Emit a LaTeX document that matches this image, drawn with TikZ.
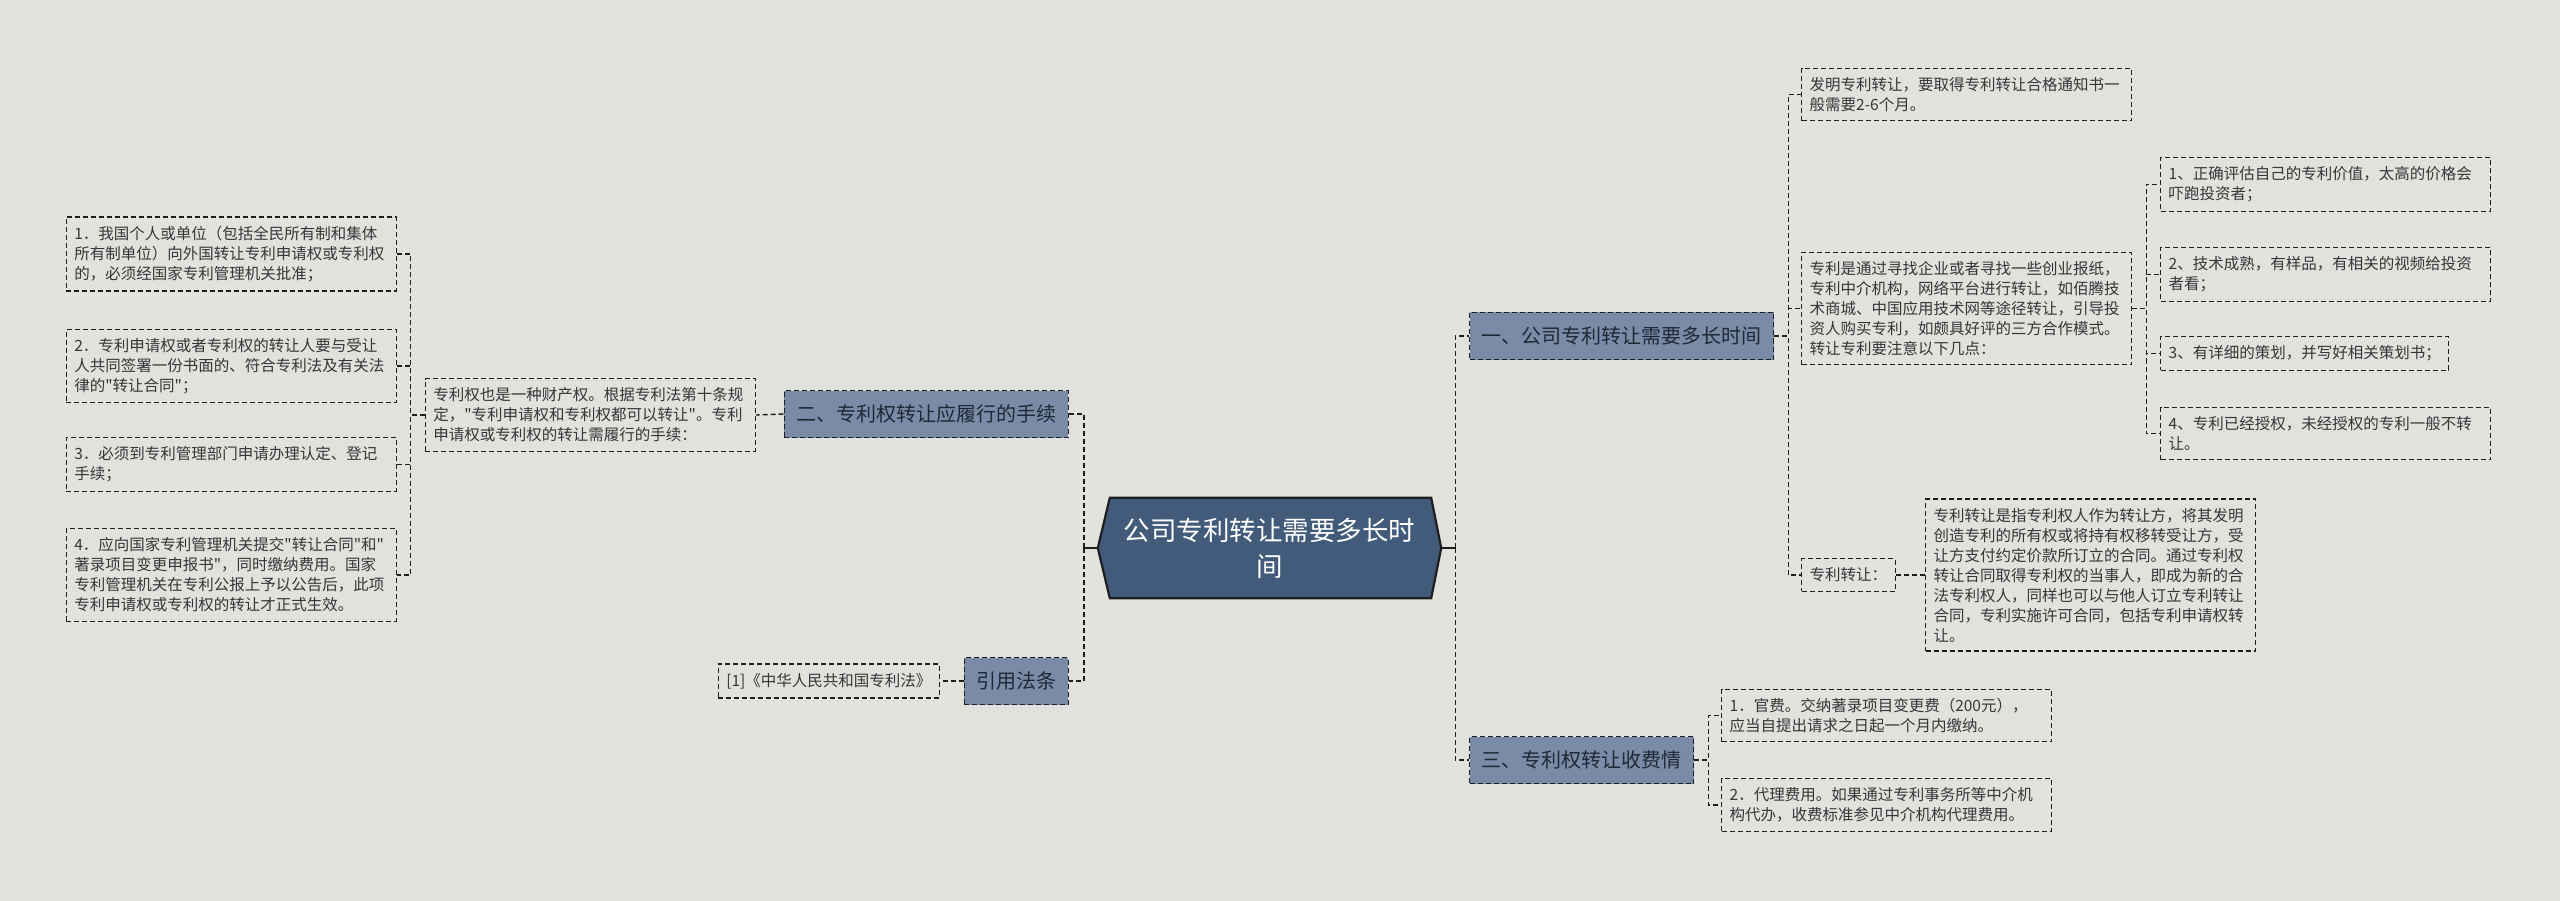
\documentclass[tikz,border=0pt]{standalone}
\usepackage{fontspec}
\setmainfont{Noto Sans CJK SC}[Ligatures=TeXOff]
\usepackage{tikz}
\usetikzlibrary{calc,backgrounds}
\definecolor{bgcol}{HTML}{E1E2DE}
\definecolor{rootcol}{HTML}{425B7A}
\definecolor{branchcol}{HTML}{7A8BA7}
\definecolor{linecol}{HTML}{1E1E1E}
\definecolor{leaftext}{HTML}{363636}
\definecolor{branchtext}{HTML}{1E2836}

\begin{document}
\begin{tikzpicture}[x=1pt,y=-1pt,
  link/.style={draw=linecol,line width=1.4pt,dash pattern=on 5pt off 3pt},
  rootlink/.style={draw=linecol,line width=2.6pt},
  leaf/.style={draw=linecol,line width=1.3pt,dash pattern=on 5pt off 3pt,
               text=leaftext,font=\fontsize{15.5}{20}\selectfont,
               inner xsep=8pt,inner ysep=9pt,align=left},
  wide/.style={leaf,text width=314pt},
  branch/.style={draw=linecol,fill=branchcol,line width=1.4pt,
               dash pattern=on 5pt off 3pt,text=branchtext,
               font=\fontsize{20}{24}\selectfont,inner xsep=12pt,
               minimum height=47pt},
  rootnode/.style={text=white,font=\fontsize{26.5}{36}\selectfont,
               align=center,minimum width=343pt,minimum height=100pt,
               inner sep=0pt},
]
\useasboundingbox (0,0) rectangle (2560,901);

% centre
\node[rootnode] (root) at (1269.5,548) {公司专利转让需要多长时\\间};

% main branches
\node[branch,anchor=west] (b1) at (1469,336) {一、公司专利转让需要多长时间};
\node[branch,anchor=west] (b3) at (1469,760) {三、专利权转让收费情};
\node[branch,anchor=east] (b2) at (1069,414) {二、专利权转让应履行的手续};
\node[branch,anchor=east] (b4) at (1069,681) {引用法条};

% branch one
\node[wide,anchor=west] (c1) at (1801,94.5)
  {发明专利转让，要取得专利转让合格通知书一\\般需要2-6个月。};
\node[wide,anchor=west] (c2) at (1801,308.5)
  {专利是通过寻找企业或者寻找一些创业报纸，\\专利中介机构，网络平台进行转让，如佰腾技\\术商城、中国应用技术网等途径转让，引导投\\资人购买专利，如颇具好评的三方合作模式。\\转让专利要注意以下几点：};
\node[leaf,anchor=west] (c3) at (1801,575) {专利转让：};
\node[wide,anchor=west] (c3a) at (1925,575)
  {专利转让是指专利权人作为转让方，将其发明\\创造专利的所有权或将持有权移转受让方，受\\让方支付约定价款所订立的合同。通过专利权\\转让合同取得专利权的当事人，即成为新的合\\法专利权人，同样也可以与他人订立专利转让\\合同，专利实施许可合同，包括专利申请权转\\让。};
\node[wide,anchor=west] (d1) at (2160,184.5)
  {1、正确评估自己的专利价值，太高的价格会\\吓跑投资者；};
\node[wide,anchor=west] (d2) at (2160,274.5)
  {2、技术成熟，有样品，有相关的视频给投资\\者看；};
\node[leaf,anchor=west] (d3) at (2160,353.5) {3、有详细的策划，并写好相关策划书；};
\node[wide,anchor=west] (d4) at (2160,433.5)
  {4、专利已经授权，未经授权的专利一般不转\\让。};

% branch three
\node[wide,anchor=west] (e1) at (1721,715.5)
  {1．官费。交纳著录项目变更费（200元），\\应当自提出请求之日起一个月内缴纳。};
\node[wide,anchor=west] (e2) at (1721,805)
  {2．代理费用。如果通过专利事务所等中介机\\构代办，收费标准参见中介机构代理费用。};

% branch two
\node[wide,anchor=east] (t2) at (756,415)
  {专利权也是一种财产权。根据专利法第十条规\\定，"专利申请权和专利权都可以转让"。专利\\申请权或专利权的转让需履行的手续：};
\node[wide,anchor=east] (l1) at (397,254)
  {1．我国个人或单位（包括全民所有制和集体\\所有制单位）向外国转让专利申请权或专利权\\的，必须经国家专利管理机关批准；};
\node[wide,anchor=east] (l2) at (397,366)
  {2．专利申请权或者专利权的转让人要与受让\\人共同签署一份书面的、符合专利法及有关法\\律的"转让合同"；};
\node[wide,anchor=east] (l3) at (397,464.5)
  {3．必须到专利管理部门申请办理认定、登记\\手续；};
\node[wide,anchor=east] (l4) at (397,575)
  {4．应向国家专利管理机关提交"转让合同"和"\\著录项目变更申报书"，同时缴纳费用。国家\\专利管理机关在专利公报上予以公告后，此项\\专利申请权或专利权的转让才正式生效。};

% citation
\node[leaf,anchor=east] (r1) at (940,681) {[1]《中华人民共和国专利法》};

% connectors
\draw[rootlink] (root.east) -- ++(14,0) coordinate (rbar);
\draw[rootlink] (root.west) -- ++(-14,0) coordinate (lbar);
\foreach \c in {b1,b3} \draw[link] (rbar) |- (\c.west);
\foreach \c in {b2,b4} \draw[link] (lbar) |- (\c.east);
\foreach \c in {c1,c2,c3} \draw[link] (b1.east) -- ++(14,0) |- (\c.west);
\foreach \c in {d1,d2,d3,d4} \draw[link] (c2.east) -- ++(14,0) |- (\c.west);
\foreach \c in {e1,e2} \draw[link] (b3.east) -- ++(14,0) |- (\c.west);
\foreach \c in {l1,l2,l3,l4} \draw[link] (t2.west) -- ++(-14,0) |- (\c.east);
\draw[link] (c3.east) -- (c3a.west);
\draw[link] (b2.west) -- (t2.east);
\draw[link] (b4.west) -- (r1.east);

\begin{scope}[on background layer]
  \fill[bgcol] (0,0) rectangle (2560,901);
  \draw[draw=linecol,fill=rootcol,line width=2.2pt,line join=miter]
    (root.west) -- ($(root.north west)+(12,0)$) -- ($(root.north east)+(-10,0)$)
    -- (root.east) -- ($(root.south east)+(-10,0)$) -- ($(root.south west)+(12,0)$)
    -- cycle;
\end{scope}
\end{tikzpicture}
\end{document}
